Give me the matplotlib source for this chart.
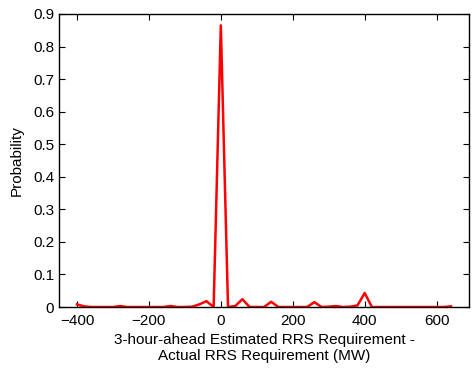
import numpy as np
import matplotlib.pyplot as plt

plt.rcParams['font.family'] = ['Liberation Sans', 'DejaVu Sans']

# Datos
x_mw = [-400, -380, -360, -340, -320, -300, -280, -260, -240, -220, -200, -180,
        -160, -140, -120, -100, -80, -60, -40, -20, 0, 20, 40, 60, 80, 100,
        120, 140, 160, 180, 200, 220, 240, 260, 280, 300, 320, 340, 360, 380,
        400, 420, 440, 460, 480, 500, 520, 540, 560, 580, 600, 620, 640]
prob = [0.008, 0.002, 0.0, 0.0, 0.0, 0.0, 0.003, 0.0, 0.0, 0.0, 0.0, 0.0,
        0.0, 0.003, 0.0, 0.0, 0.001, 0.008, 0.018, 0.0, 0.865, 0.0, 0.003, 0.024, 0.0, 0.0,
        0.0, 0.016, 0.0, 0.0, 0.0, 0.0, 0.0, 0.015, 0.0, 0.001, 0.003, 0.0, 0.001, 0.005,
        0.043, 0.0, 0.0, 0.0, 0.0, 0.0, 0.0, 0.0, 0.0, 0.0, 0.0, 0.0, 0.002]

fig = plt.figure(figsize=(4.73, 3.72), dpi=100)
ax = fig.add_axes([0.1247, 0.1747, 0.8668, 0.7877])
ax.plot(x_mw, prob, color='red', linewidth=1.8)

ax.set_xlim(-450, 690)
ax.set_ylim(0, 0.9)
ax.set_xticks([-400, -200, 0, 200, 400, 600])
ax.set_yticks(np.arange(0, 0.95, 0.1))
ax.set_yticklabels(['0', '0.1', '0.2', '0.3', '0.4', '0.5', '0.6', '0.7', '0.8', '0.9'])
ax.tick_params(direction='in', top=True, right=True, labelsize=11, length=4)
ax.tick_params(axis='x', pad=5)
for s in ax.spines.values():
    s.set_linewidth(1.0)

ax.set_ylabel('Probability', fontsize=11)
ax.yaxis.set_label_coords(-0.085, 0.5)
ax.set_xlabel('3-hour-ahead Estimated RRS Requirement -\nActual RRS Requirement (MW)',
              fontsize=11, linespacing=1.15)
ax.xaxis.set_label_coords(0.5, -0.09)
ax.xaxis.label.set_verticalalignment('top')

fig.savefig('out.png', dpi=100)
